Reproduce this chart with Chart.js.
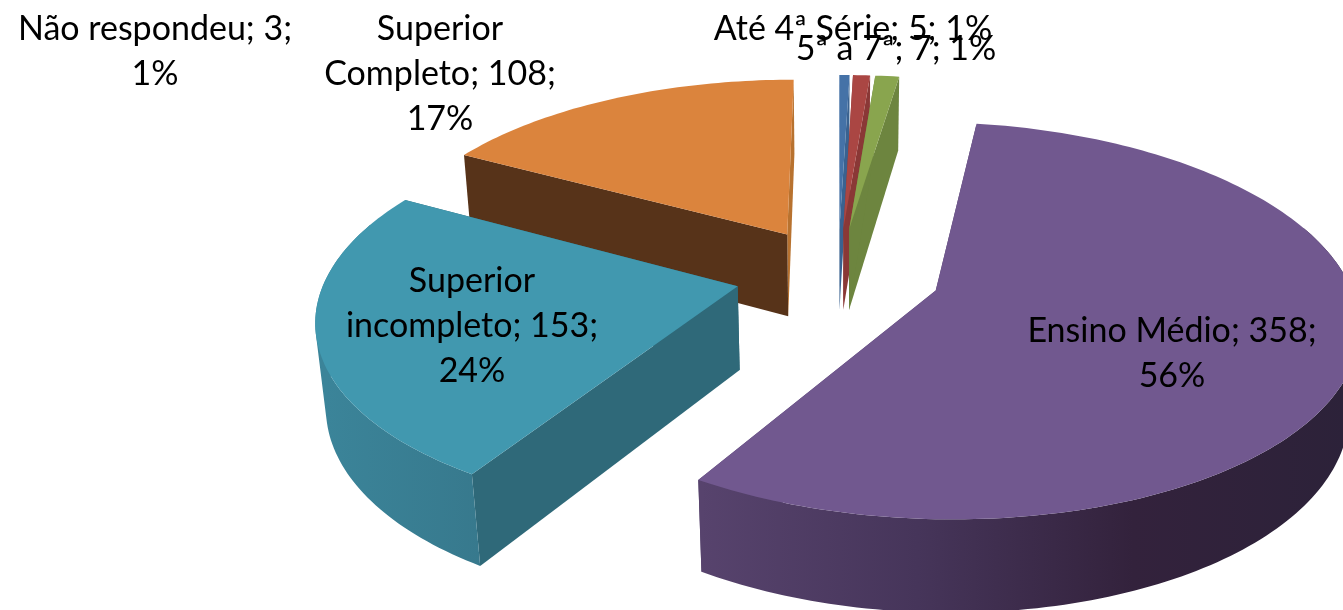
<!DOCTYPE html>
<html>
<head>
<meta charset="utf-8">
<title>Escolaridade</title>
<script src="https://cdn.jsdelivr.net/npm/chart.js@4/dist/chart.umd.js"></script>
<style>
  html, body { margin: 0; padding: 0; background: #fff; overflow: hidden; }
  #wrap { width: 1343px; height: 610px; position: relative; }
</style>
</head>
<body>
<div id="wrap"><canvas id="pie"></canvas></div>
<script>
// Data, in slice order starting at 12 o'clock
const categories = ["Não respondeu", "Até 4ª Série", "5ª a 7ª", "Ensino Médio", "Superior incompleto", "Superior Completo"];
const counts = [3, 5, 7, 358, 153, 108];
const percentLabels = ["1%", "1%", "1%", "56%", "24%", "17%"];

// Colours
const topColors = ["#4572A7", "#AA4643", "#89A54E", "#71588F", "#4198AF", "#DB843D"];
const startWallColors = ["#3a6290", "#8a3836", "#6d853f", "#56436d", "#2f6979", "#573319"];
const endWallColors = ["#3a6290", "#8a3836", "#6d853f", "#56436d", "#2f6979", "#b8722f"];
const rimStops = [
  ["#3a6290"],
  ["#8a3836"],
  ["#6d853f"],
  ["#57436d", "#46355a", "#33223c", "#2c2239"],
  ["#3b8499", "#37798d"],
  ["#573319"],
];

// Projection of the flat pie (units of the arc radius)
const explode = 0.25;
const perspective = 0.15;
const scaleX = 1.5;
const scaleY = 0.69;
const depth = 85;
const depthShrink = 0.02;

// Label placement: text centre, first baseline, wrap width
const labelFont = "34px Lato";
const labelLineHeight = 45;
const labelBoxes = [
  { x: 155, y: 40, wrap: 290 },
  { x: 853, y: 40, wrap: 400 },
  { x: 896, y: 60, wrap: 400 },
  { x: 1172, y: 342, wrap: 300 },
  { x: 472, y: 292, wrap: 265 },
  { x: 440, y: 40, wrap: 245 },
];
const drawOrder = [5, 0, 1, 2, 4, 3];

function project(el, angle, rimFactor, z) {
  const mid = (el.startAngle + el.endAngle) / 2;
  const nx = Math.cos(angle) * rimFactor + explode * Math.cos(mid);
  const ny = Math.sin(angle) * rimFactor + explode * Math.sin(mid);
  const w = 1 - perspective * ny + depthShrink * z;
  return {
    x: el.x + (el.outerRadius * scaleX * nx) / w,
    y: el.y + (el.outerRadius * scaleY * ny + depth * z) / w,
  };
}

function tracePolygon(ctx, points) {
  points.forEach((p, i) => (i ? ctx.lineTo(p.x, p.y) : ctx.moveTo(p.x, p.y)));
  ctx.closePath();
}

function fillPath(ctx, points, fill) {
  ctx.beginPath();
  tracePolygon(ctx, points);
  ctx.fillStyle = fill;
  ctx.fill();
}

function signedArea(points) {
  let area = 0;
  points.forEach((p, i) => {
    const q = points[(i + 1) % points.length];
    area += p.x * q.y - q.x * p.y;
  });
  return area;
}

function rimAngles(el) {
  const angles = [];
  const steps = Math.max(4, Math.ceil((el.endAngle - el.startAngle) / 0.02));
  for (let s = 0; s <= steps; s++) {
    angles.push(el.startAngle + ((el.endAngle - el.startAngle) * s) / steps);
  }
  return angles;
}

function drawRadialWall(ctx, el, angle, fill) {
  fillPath(ctx, [project(el, angle, 0, 0), project(el, angle, 1, 0), project(el, angle, 1, 1), project(el, angle, 0, 1)], fill);
}

function drawSlice(ctx, el, i) {
  drawRadialWall(ctx, el, el.endAngle, endWallColors[i]);
  drawRadialWall(ctx, el, el.startAngle, startWallColors[i]);

  // outer wall, only the part facing the viewer, shaded left to right
  const angles = rimAngles(el);
  const front = angles.filter((a) => Math.sin(a) > -0.35);
  if (front.length > 1) {
    const upper = front.map((a) => project(el, a, 1, 0));
    const lower = front.map((a) => project(el, a, 1, 1));
    const xs = lower.map((p) => p.x);
    const stops = rimStops[i];
    let rimFill = stops[0];
    if (stops.length > 1) {
      rimFill = ctx.createLinearGradient(Math.min(...xs), 0, Math.max(...xs), 0);
      stops.forEach((c, n) => rimFill.addColorStop(n / (stops.length - 1), c));
    }
    // same-wound quads in one path: straight side silhouette, no seams
    ctx.beginPath();
    for (let s = 0; s < front.length - 1; s++) {
      const quad = [upper[s], upper[s + 1], lower[s + 1], lower[s]];
      if (signedArea(quad) < 0) quad.reverse();
      tracePolygon(ctx, quad);
    }
    ctx.fillStyle = rimFill;
    ctx.fill();
  }

  // top face
  const topRim = angles.map((a) => project(el, a, 1, 0));
  fillPath(ctx, [project(el, el.startAngle, 0, 0)].concat(topRim), el.options.backgroundColor);
}

function wrapText(ctx, text, maxWidth) {
  const lines = [];
  let line = "";
  text.split(" ").forEach((word) => {
    const next = line ? line + " " + word : word;
    if (line && ctx.measureText(next).width > maxWidth) {
      lines.push(line);
      line = word;
    } else {
      line = next;
    }
  });
  lines.push(line);
  return lines;
}

const pie3d = {
  id: "pie3d",
  beforeDatasetsDraw(chart) {
    const ctx = chart.ctx;
    const arcs = chart.getDatasetMeta(0).data;
    ctx.save();
    drawOrder.forEach((i) => drawSlice(ctx, arcs[i], i));
    ctx.restore();
    return false;
  },
  afterDraw(chart) {
    const ctx = chart.ctx;
    ctx.save();
    ctx.font = labelFont;
    ctx.fillStyle = "#000";
    ctx.textAlign = "center";
    ctx.textBaseline = "alphabetic";
    categories.forEach((name, i) => {
      const box = labelBoxes[i];
      const text = name + "; " + counts[i] + "; " + percentLabels[i];
      wrapText(ctx, text, box.wrap).forEach((line, n) => {
        ctx.fillText(line, box.x, box.y + n * labelLineHeight);
      });
    });
    ctx.restore();
  },
};

new Chart(document.getElementById("pie"), {
  type: "pie",
  data: {
    labels: categories,
    datasets: [{ data: counts, backgroundColor: topColors, borderWidth: 0 }],
  },
  options: {
    responsive: true,
    maintainAspectRatio: false,
    animation: false,
    layout: { padding: { left: 333, bottom: 62 } },
    plugins: { legend: { display: false }, tooltip: { enabled: false } },
  },
  plugins: [pie3d],
});
</script>
</body>
</html>
